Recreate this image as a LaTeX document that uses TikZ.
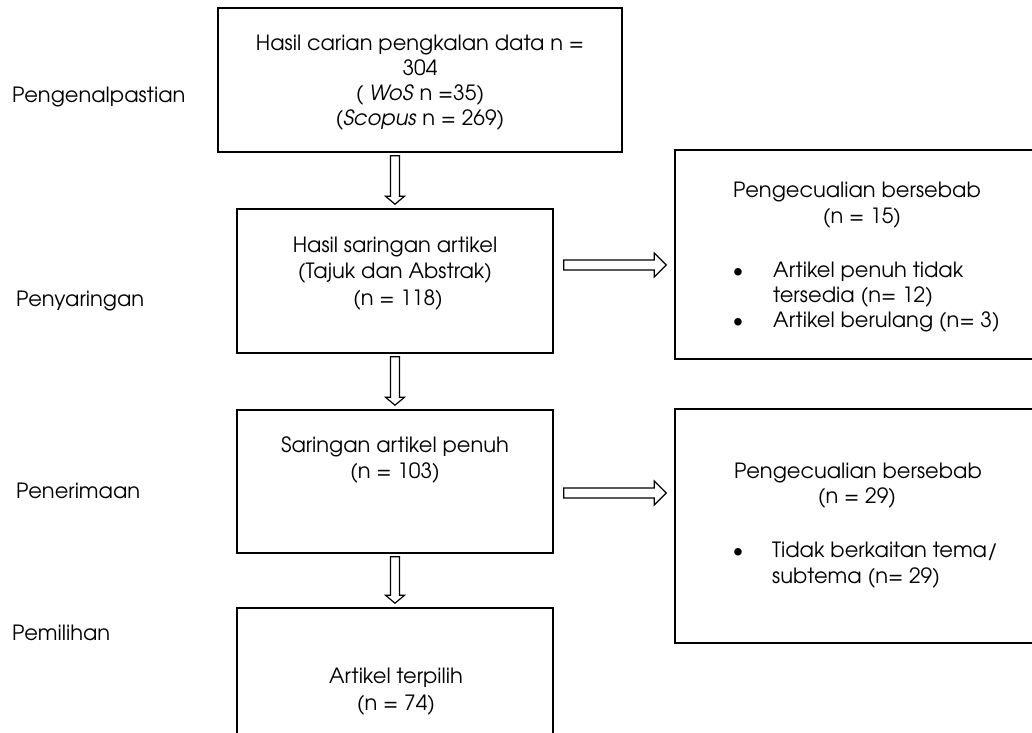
\documentclass[tikz,border=0pt]{standalone}
\usepackage{fontspec}
\setmainfont{texgyreadventor}[Extension=.otf, UprightFont=*-regular, ItalicFont=*-italic, BoldFont=*-bold]
\usetikzlibrary{calc}
\begin{document}
\begin{tikzpicture}[x=1pt,y=1pt,
  box/.style={draw=black, line width=1.6pt, rectangle, inner sep=0pt},
  txt/.style={anchor=base, inner sep=0pt, font=\fontsize{21}{25}\selectfont},
  barrow/.style={draw=black, line width=1.2pt, fill=white, line join=miter}]
\useasboundingbox (0,0) rectangle (1032,-732);
\clip (0,0) rectangle (1032,-732);
% boxes
\node[box, minimum width=404, minimum height=144] (b1) at (420,-80) {};
\node[box, minimum width=316, minimum height=144] (b2) at (395,-281) {};
\node[box, minimum width=316, minimum height=143] (b3) at (395,-481.5) {};
\node[box, minimum width=316, minimum height=144] (b4) at (395,-680) {};
\node[box, minimum width=365, minimum height=209] (r1) at (857.5,-254.5) {};
\node[box, minimum width=365, minimum height=234] (r2) at (857.5,-526) {};
% stage labels
\node[txt, anchor=base west] (s1) at (12,-102) {Pengenalpastian};
\node[txt, anchor=base west] (s2) at (16,-306) {Penyaringan};
\node[txt, anchor=base west] (s3) at (16,-498) {Penerimaan};
\node[txt, anchor=base west] (s4) at (12,-640) {Pemilihan};
% box 1 text
\node[txt] (t1a) at (420,-50) {Hasil carian pengkalan data n =};
\node[txt] (t1b) at (420,-75) {304};
\node[txt] (t1c) at (420,-100) {( \textit{WoS} n =35)};
\node[txt] (t1d) at (420,-125) {(\textit{Scopus} n = 269)};
% box 2 text
\node[txt] (t2a) at (395,-252) {Hasil saringan artikel};
\node[txt] (t2b) at (395,-278) {(Tajuk dan Abstrak)};
\node[txt] (t2c) at (398,-305) {(n = 118)};
% box 3 text
\node[txt] (t3a) at (395,-452) {Saringan artikel penuh};
\node[txt] (t3b) at (395,-478) {(n = 103)};
% box 4 text
\node[txt] (t4a) at (396,-683) {Artikel terpilih};
\node[txt] (t4b) at (396,-710) {(n = 74)};
% right box 1 text
\node[txt] (r1a) at (857,-197) {Pengecualian bersebab};
\node[txt] (r1b) at (862,-223) {(n = 15)};
\node[txt] (r1c) at (738,-277) {\textbullet};
\node[txt, anchor=base west] (r1d) at (773,-277) {Artikel penuh tidak};
\node[txt, anchor=base west] (r1e) at (773,-302) {tersedia (n= 12)};
\node[txt] (r1f) at (738,-327) {\textbullet};
\node[txt, anchor=base west] (r1g) at (773,-327) {Artikel berulang (n= 3)};
% right box 2 text
\node[txt] (r2a) at (858,-478) {Pengecualian bersebab};
\node[txt] (r2b) at (857,-503) {(n = 29)};
\node[txt] (r2c) at (738,-557) {\textbullet};
\node[txt, anchor=base west] (r2d) at (772,-557) {Tidak berkaitan tema/};
\node[txt, anchor=base west] (r2e) at (772,-583) {subtema (n= 29)};
% vertical block arrows
\foreach \a/\b in {b1/b2, b2/b3, b3/b4}{
  \draw[barrow] ($(\a.south -| \b.north)+(-4.5,-3)$) -- ($(\b.north)+(-4.5,12)$)
    -- ($(\b.north)+(-9.5,12)$) -- ($(\b.north)+(0,4)$) -- ($(\b.north)+(9.5,12)$)
    -- ($(\b.north)+(4.5,12)$) -- ($(\a.south -| \b.north)+(4.5,-3)$) -- cycle;
}
% horizontal block arrows
\draw[barrow] ($(b2.east)+(10,21)$) coordinate (h1s) -- ($(r1.west |- h1s)+(-20,0)$)
  -- ($(r1.west |- h1s)+(-20,7)$) -- ($(r1.west |- h1s)+(-8,-5)$)
  -- ($(r1.west |- h1s)+(-20,-17)$) -- ($(r1.west |- h1s)+(-20,-10)$)
  -- ($(b2.east)+(10,11)$) -- cycle;
\draw[barrow] ($(b3.east)+(10,-6.5)$) coordinate (h2s) -- ($(r2.west |- h2s)+(-20,0)$)
  -- ($(r2.west |- h2s)+(-20,7)$) -- ($(r2.west |- h2s)+(-8,-5)$)
  -- ($(r2.west |- h2s)+(-20,-17)$) -- ($(r2.west |- h2s)+(-20,-10)$)
  -- ($(b3.east)+(10,-16.5)$) -- cycle;
\end{tikzpicture}
\end{document}
